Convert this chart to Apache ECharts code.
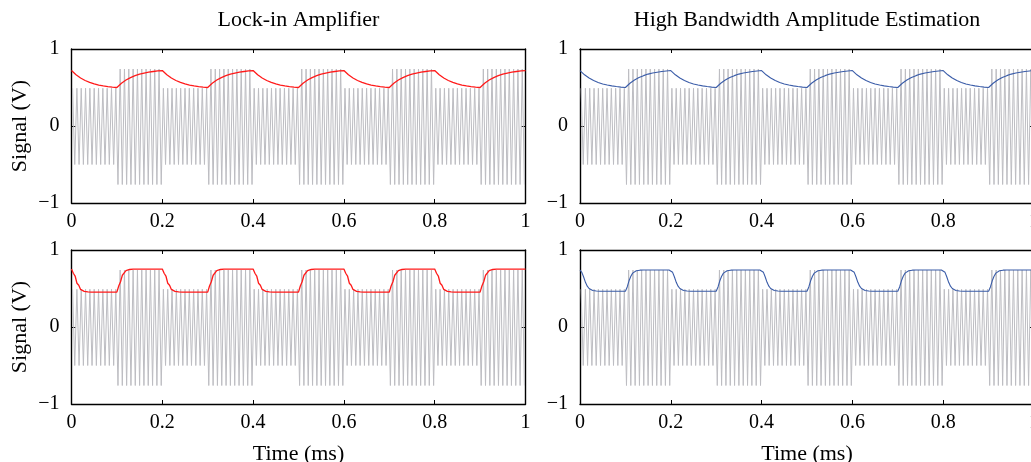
<!DOCTYPE html>
<html><head><meta charset="utf-8">
<script src="https://cdn.jsdelivr.net/npm/echarts@6/dist/echarts.min.js"></script>
<style>html,body{margin:0;padding:0;background:#fff}#c{width:1031px;height:462px}</style>
</head><body><div id="c"></div>
<script>
// ---------------- data ----------------
const titles = ['Lock-in Amplifier', 'High Bandwidth Amplitude Estimation'];
const xName = 'Time (ms)';
const yName = 'Signal (V)';
const xTicks = [0, 0.2, 0.4, 0.6, 0.8, 1];
const yTicks = [-1, 0, 1];

// gray carrier: successive peak values (V), one row per 0.1 ms segment
const carrierStart = 0.1 / 42;      // time of the first peak (ms)
const carrierStep = 0.1 / 21;       // time between successive peaks (ms)
const carrierPeaks = [
  0.49,-0.5,0.49,-0.5,0.49,-0.5,0.49,-0.5,0.49,-0.5,0.49,-0.5,0.49,-0.5,0.49,-0.5,0.49,-0.5,0.49,-0.5,0.49,
  -0.76,0.74,-0.76,0.74,-0.76,0.74,-0.76,0.74,-0.76,0.74,-0.76,0.74,-0.76,0.74,-0.76,0.74,-0.76,0.74,-0.76,0.74,-0.76,
  0.49,-0.5,0.49,-0.5,0.49,-0.5,0.49,-0.5,0.49,-0.5,0.49,-0.5,0.49,-0.5,0.49,-0.5,0.49,-0.5,0.49,-0.5,0.49,
  -0.76,0.74,-0.76,0.74,-0.76,0.74,-0.76,0.74,-0.76,0.74,-0.76,0.74,-0.76,0.74,-0.76,0.74,-0.76,0.74,-0.76,0.74,-0.76,
  0.49,-0.5,0.49,-0.5,0.49,-0.5,0.49,-0.5,0.49,-0.5,0.49,-0.5,0.49,-0.5,0.49,-0.5,0.49,-0.5,0.49,-0.5,0.49,
  -0.76,0.74,-0.76,0.74,-0.76,0.74,-0.76,0.74,-0.76,0.74,-0.76,0.74,-0.76,0.74,-0.76,0.74,-0.76,0.74,-0.76,0.74,-0.76,
  0.49,-0.5,0.49,-0.5,0.49,-0.5,0.49,-0.5,0.49,-0.5,0.49,-0.5,0.49,-0.5,0.49,-0.5,0.49,-0.5,0.49,-0.5,0.49,
  -0.76,0.74,-0.76,0.74,-0.76,0.74,-0.76,0.74,-0.76,0.74,-0.76,0.74,-0.76,0.74,-0.76,0.74,-0.76,0.74,-0.76,0.74,-0.76,
  0.49,-0.5,0.49,-0.5,0.49,-0.5,0.49,-0.5,0.49,-0.5,0.49,-0.5,0.49,-0.5,0.49,-0.5,0.49,-0.5,0.49,-0.5,0.49,
  -0.76,0.74,-0.76,0.74,-0.76,0.74,-0.76,0.74,-0.76,0.74,-0.76,0.74,-0.76,0.74,-0.76,0.74,-0.76,0.74,-0.76,0.74,-0.76
];

// top row estimates, sampled every 0.01 ms
const topStep = 0.01;
const lockInTop = [
  0.72,0.665,0.623,0.591,0.566,0.546,0.532,0.521,0.512,0.505,0.50,0.555,0.597,0.629,0.654,0.674,0.688,0.699,0.708,0.715,
  0.72,0.665,0.623,0.591,0.566,0.546,0.532,0.521,0.512,0.505,0.50,0.555,0.597,0.629,0.654,0.674,0.688,0.699,0.708,0.715,
  0.72,0.665,0.623,0.591,0.566,0.546,0.532,0.521,0.512,0.505,0.50,0.555,0.597,0.629,0.654,0.674,0.688,0.699,0.708,0.715,
  0.72,0.665,0.623,0.591,0.566,0.546,0.532,0.521,0.512,0.505,0.50,0.555,0.597,0.629,0.654,0.674,0.688,0.699,0.708,0.715,
  0.72,0.665,0.623,0.591,0.566,0.546,0.532,0.521,0.512,0.505,0.50,0.555,0.597,0.629,0.654,0.674,0.688,0.699,0.708,0.715,
  0.72
];
const hbaeTop = [
  0.72,0.665,0.623,0.591,0.566,0.546,0.532,0.521,0.512,0.505,0.50,0.555,0.597,0.629,0.654,0.674,0.688,0.699,0.708,0.715,
  0.72,0.665,0.623,0.591,0.566,0.546,0.532,0.521,0.512,0.505,0.50,0.555,0.597,0.629,0.654,0.674,0.688,0.699,0.708,0.715,
  0.72,0.665,0.623,0.591,0.566,0.546,0.532,0.521,0.512,0.505,0.50,0.555,0.597,0.629,0.654,0.674,0.688,0.699,0.708,0.715,
  0.72,0.665,0.623,0.591,0.566,0.546,0.532,0.521,0.512,0.505,0.50,0.555,0.597,0.629,0.654,0.674,0.688,0.699,0.708,0.715,
  0.72,0.665,0.623,0.591,0.566,0.546,0.532,0.521,0.512,0.505,0.50,0.555,0.597,0.629,0.654,0.674,0.688,0.699,0.708,0.715,
  0.72
];

// bottom row estimates, sampled every 0.004 ms
const bottomStep = 0.004;
const lockInBottom = [
  0.752,0.698,0.662,0.568,0.542,0.488,0.497,0.463,0.482,0.455,0.477,0.453,0.477,0.453,0.477,0.453,0.477,0.453,0.477,0.453,0.477,0.453,0.477,0.453,0.477,
  0.453,0.532,0.588,0.672,0.688,0.732,0.718,0.747,0.726,0.752,0.728,0.752,0.728,0.752,0.728,0.752,0.728,0.752,0.728,0.752,0.728,0.752,0.728,0.752,0.728,
  0.752,0.698,0.662,0.568,0.542,0.488,0.497,0.463,0.482,0.455,0.477,0.453,0.477,0.453,0.477,0.453,0.477,0.453,0.477,0.453,0.477,0.453,0.477,0.453,0.477,
  0.453,0.532,0.588,0.672,0.688,0.732,0.718,0.747,0.726,0.752,0.728,0.752,0.728,0.752,0.728,0.752,0.728,0.752,0.728,0.752,0.728,0.752,0.728,0.752,0.728,
  0.752,0.698,0.662,0.568,0.542,0.488,0.497,0.463,0.482,0.455,0.477,0.453,0.477,0.453,0.477,0.453,0.477,0.453,0.477,0.453,0.477,0.453,0.477,0.453,0.477,
  0.453,0.532,0.588,0.672,0.688,0.732,0.718,0.747,0.726,0.752,0.728,0.752,0.728,0.752,0.728,0.752,0.728,0.752,0.728,0.752,0.728,0.752,0.728,0.752,0.728,
  0.752,0.698,0.662,0.568,0.542,0.488,0.497,0.463,0.482,0.455,0.477,0.453,0.477,0.453,0.477,0.453,0.477,0.453,0.477,0.453,0.477,0.453,0.477,0.453,0.477,
  0.453,0.532,0.588,0.672,0.688,0.732,0.718,0.747,0.726,0.752,0.728,0.752,0.728,0.752,0.728,0.752,0.728,0.752,0.728,0.752,0.728,0.752,0.728,0.752,0.728,
  0.752,0.698,0.662,0.568,0.542,0.488,0.497,0.463,0.482,0.455,0.477,0.453,0.477,0.453,0.477,0.453,0.477,0.453,0.477,0.453,0.477,0.453,0.477,0.453,0.477,
  0.453,0.532,0.588,0.672,0.688,0.732,0.718,0.747,0.726,0.752,0.728,0.752,0.728,0.752,0.728,0.752,0.728,0.752,0.728,0.752,0.728,0.752,0.728,0.752,0.728,
  0.752
];
const hbaeBottom = [
  0.74,0.71,0.65,0.58,0.53,0.50,0.485,0.475,0.47,0.467,0.465,0.465,0.465,0.465,0.465,0.465,0.465,0.465,0.465,0.465,0.465,0.465,0.465,0.465,0.465,
  0.465,0.52,0.60,0.66,0.70,0.72,0.73,0.735,0.738,0.74,0.74,0.74,0.74,0.74,0.74,0.74,0.74,0.74,0.74,0.74,0.74,0.74,0.74,0.74,0.74,
  0.74,0.71,0.65,0.58,0.53,0.50,0.485,0.475,0.47,0.467,0.465,0.465,0.465,0.465,0.465,0.465,0.465,0.465,0.465,0.465,0.465,0.465,0.465,0.465,0.465,
  0.465,0.52,0.60,0.66,0.70,0.72,0.73,0.735,0.738,0.74,0.74,0.74,0.74,0.74,0.74,0.74,0.74,0.74,0.74,0.74,0.74,0.74,0.74,0.74,0.74,
  0.74,0.71,0.65,0.58,0.53,0.50,0.485,0.475,0.47,0.467,0.465,0.465,0.465,0.465,0.465,0.465,0.465,0.465,0.465,0.465,0.465,0.465,0.465,0.465,0.465,
  0.465,0.52,0.60,0.66,0.70,0.72,0.73,0.735,0.738,0.74,0.74,0.74,0.74,0.74,0.74,0.74,0.74,0.74,0.74,0.74,0.74,0.74,0.74,0.74,0.74,
  0.74,0.71,0.65,0.58,0.53,0.50,0.485,0.475,0.47,0.467,0.465,0.465,0.465,0.465,0.465,0.465,0.465,0.465,0.465,0.465,0.465,0.465,0.465,0.465,0.465,
  0.465,0.52,0.60,0.66,0.70,0.72,0.73,0.735,0.738,0.74,0.74,0.74,0.74,0.74,0.74,0.74,0.74,0.74,0.74,0.74,0.74,0.74,0.74,0.74,0.74,
  0.74,0.71,0.65,0.58,0.53,0.50,0.485,0.475,0.47,0.467,0.465,0.465,0.465,0.465,0.465,0.465,0.465,0.465,0.465,0.465,0.465,0.465,0.465,0.465,0.465,
  0.465,0.52,0.60,0.66,0.70,0.72,0.73,0.735,0.738,0.74,0.74,0.74,0.74,0.74,0.74,0.74,0.74,0.74,0.74,0.74,0.74,0.74,0.74,0.74,0.74,
  0.74
];

// ---------------- chart ----------------
const FONT = '"Liberation Serif", "Times New Roman", serif';
const GRAY = '#bdbdc2', RED = '#ff1a1a', BLUE = '#3a5ca8';

const carrierData = carrierPeaks.map((v, i) => [carrierStart + i * carrierStep, v]);
const toXY = (arr, step) => arr.map((v, i) => [+(i * step).toFixed(4), v]);

const panels = [
  { left: 71.5, top: 49,  est: toXY(lockInTop, topStep),       color: RED,  lw: 1.3, title: titles[0], bottomRow: false },
  { left: 580,  top: 49,  est: toXY(hbaeTop, topStep),         color: BLUE, lw: 1.1, title: titles[1], bottomRow: false },
  { left: 71.5, top: 250, est: toXY(lockInBottom, bottomStep), color: RED,  lw: 1.3, title: null, bottomRow: true },
  { left: 580,  top: 250, est: toXY(hbaeBottom, bottomStep),   color: BLUE, lw: 1.1, title: null, bottomRow: true }
];
const W = 454, H = 154;

const grid = [], xAxis = [], yAxis = [], series = [], title = [];
const lineStyle = { color: '#000', width: 1.4 };
const tick = { show: true, inside: true, length: 4, lineStyle: { color: '#000', width: 1 } };
const fmtY = v => v < 0 ? '\u2212' + Math.abs(v) : String(v);

panels.forEach((p, g) => {
  grid.push({ left: p.left, top: p.top, width: W, height: H, containLabel: false, outerBoundsMode: 'none' });
  const xBase = {
    gridIndex: g, type: 'value', min: xTicks[0], max: xTicks[xTicks.length - 1], interval: 0.2,
    axisLine: { show: true, onZero: false, lineStyle },
    axisTick: tick, splitLine: { show: false }
  };
  xAxis.push(Object.assign({}, xBase, {
    position: 'bottom',
    axisLabel: { show: true, margin: 9, fontFamily: FONT, fontSize: 20, color: '#000', showMinLabel: true, showMaxLabel: true },
    name: p.bottomRow ? xName : '', nameLocation: 'middle', nameGap: 39,
    nameTextStyle: { fontFamily: FONT, fontSize: 22, color: '#000' }
  }));
  xAxis.push(Object.assign({}, xBase, { position: 'top', axisLabel: { show: false } }));
  const yBase = {
    gridIndex: g, type: 'value', min: yTicks[0], max: yTicks[yTicks.length - 1], interval: 1,
    axisLine: { show: true, onZero: false, lineStyle },
    axisTick: tick, splitLine: { show: false }
  };
  yAxis.push(Object.assign({}, yBase, {
    position: 'left',
    axisLabel: { show: true, margin: 12, fontFamily: FONT, fontSize: 20, color: '#000', formatter: fmtY },
    name: g % 2 === 0 ? yName : '', nameLocation: 'middle', nameGap: 40, nameRotate: 90,
    nameTextStyle: { fontFamily: FONT, fontSize: 22, color: '#000' }
  }));
  yAxis.push(Object.assign({}, yBase, { position: 'right', axisLabel: { show: false } }));

  series.push({
    type: 'line', xAxisIndex: 2 * g, yAxisIndex: 2 * g, data: carrierData,
    showSymbol: false, symbol: 'none', silent: true, animation: false,
    lineStyle: { color: GRAY, width: 1 }, z: 2
  });
  series.push({
    type: 'line', xAxisIndex: 2 * g, yAxisIndex: 2 * g, data: p.est,
    showSymbol: false, symbol: 'none', silent: true, animation: false,
    lineStyle: { color: p.color, width: p.lw }, z: 3
  });
  if (p.title) {
    title.push({
      text: p.title, left: p.left + W / 2, top: 9, textAlign: 'center', padding: 0,
      textStyle: { fontFamily: FONT, fontSize: 22, fontWeight: 'normal', color: '#000' }
    });
  }
});

const chart = echarts.init(document.getElementById('c'), null, { renderer: 'canvas' });
chart.setOption({ animation: false, backgroundColor: '#fff', title, grid, xAxis, yAxis, series });
</script>
</body></html>
